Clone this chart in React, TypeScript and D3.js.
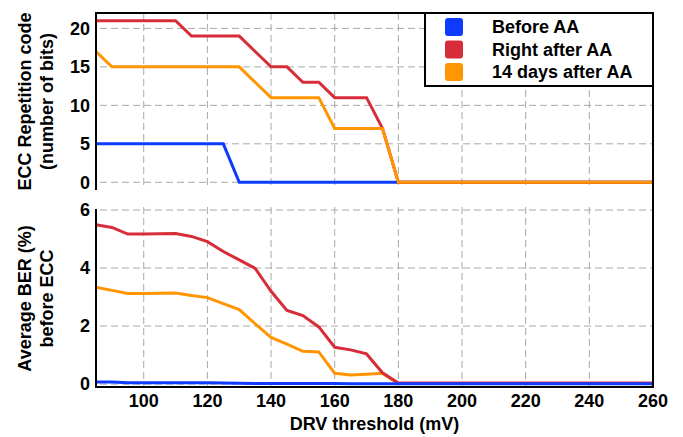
import { scaleLinear, line } from "d3";

const thresholds = [
  85, 90, 95, 100, 105, 110, 115, 120, 125, 130, 135, 140, 145, 150, 155, 160,
  165, 170, 175, 180, 185, 190, 195, 200, 205, 210, 215, 220, 225, 230, 235,
  240, 245, 250, 255, 260,
];

// ECC repetition code (number of bits)
const eccBefore = [
  5, 5, 5, 5, 5, 5, 5, 5, 5, 0, 0, 0, 0, 0, 0, 0, 0, 0, 0, 0, 0, 0, 0, 0, 0, 0,
  0, 0, 0, 0, 0, 0, 0, 0, 0, 0,
];
const eccRight = [
  21, 21, 21, 21, 21, 21, 19, 19, 19, 19, 17, 15, 15, 13, 13, 11, 11, 11, 7, 0,
  0, 0, 0, 0, 0, 0, 0, 0, 0, 0, 0, 0, 0, 0, 0, 0,
];
const eccDays14 = [
  17, 15, 15, 15, 15, 15, 15, 15, 15, 15, 13, 11, 11, 11, 11, 7, 7, 7, 7, 0, 0,
  0, 0, 0, 0, 0, 0, 0, 0, 0, 0, 0, 0, 0, 0, 0,
];

// Average BER (%) before ECC
const berBefore = [
  0.07, 0.07, 0.05, 0.05, 0.05, 0.05, 0.05, 0.05, 0.04, 0.03, 0.02, 0.02, 0.02,
  0.02, 0.02, 0.02, 0.01, 0.01, 0.01, 0.01, 0.01, 0.01, 0.01, 0.01, 0.01, 0.01,
  0.01, 0.01, 0.01, 0.01, 0.01, 0.01, 0.01, 0.01, 0.01, 0.01,
];
const berRight = [
  5.49, 5.4, 5.17, 5.17, 5.18, 5.19, 5.09, 4.91, 4.57, 4.28, 3.99, 3.2, 2.54,
  2.36, 1.97, 1.27, 1.18, 1.04, 0.39, 0.04, 0.04, 0.04, 0.04, 0.04, 0.04, 0.04,
  0.04, 0.04, 0.04, 0.04, 0.04, 0.04, 0.04, 0.04, 0.04, 0.04,
];
const berDays14 = [
  3.34, 3.23, 3.12, 3.12, 3.13, 3.14, 3.05, 2.98, 2.77, 2.57, 2.08, 1.61, 1.38,
  1.13, 1.11, 0.37, 0.31, 0.34, 0.37, 0.02, 0.02, 0.02, 0.02, 0.02, 0.02, 0.02,
  0.02, 0.02, 0.02, 0.02, 0.02, 0.02, 0.02, 0.02, 0.02, 0.02,
];

const xTicks = [100, 120, 140, 160, 180, 200, 220, 240, 260];
const eccTicks = [0, 5, 10, 15, 20];
const berTicks = [0, 2, 4, 6];

const seriesNames = ["Before AA", "Right after AA", "14 days after AA"];
const colors = ["#0d3cff", "#d72d3a", "#ff9500"];

const width = 683;
const height = 437;
const left = 96;
const right = 653;
const fs = 18;
const font = '"Liberation Sans", Arial, Helvetica, sans-serif';

const x = scaleLinear().domain([85, 260]).range([left, right]);
const yTop = scaleLinear().domain([-1, 22]).range([190, 13]);
const yBot = scaleLinear().domain([-0.1, 6]).range([387, 210]);

const gridStroke = "#a8a8a8";
const dash = "7,4";

function path(values: number[], y: (v: number) => number) {
  return line<number>()
    .x((_, i) => x(thresholds[i]))
    .y((v) => y(v))(values) as string;
}

function App() {
  const eccSeries = [eccBefore, eccRight, eccDays14];
  const berSeries = [berBefore, berRight, berDays14];

  return (
    <svg
      width={width}
      height={height}
      fontFamily={font}
      fontWeight={700}
      style={{ position: "absolute", left: 0, top: 0, background: "white" }}
    >
      {/* grid, top panel */}
      {eccTicks.map((t) => (
        <line
          key={"ht" + t}
          x1={left + 4}
          x2={right}
          y1={yTop(t)}
          y2={yTop(t)}
          stroke={gridStroke}
          strokeDasharray={dash}
        />
      ))}
      {xTicks.slice(0, -1).map((t) => (
        <line
          key={"vt" + t}
          x1={x(t)}
          x2={x(t)}
          y1={yTop(22)}
          y2={yTop(0) + 4}
          stroke={gridStroke}
          strokeDasharray={dash}
        />
      ))}
      {/* grid, bottom panel */}
      {berTicks.map((t) => (
        <line
          key={"hb" + t}
          x1={left + 4}
          x2={right}
          y1={yBot(t)}
          y2={yBot(t)}
          stroke={gridStroke}
          strokeDasharray={dash}
        />
      ))}
      {xTicks.slice(0, -1).map((t) => (
        <line
          key={"vb" + t}
          x1={x(t)}
          x2={x(t)}
          y1={yBot(6) - 3}
          y2={yBot(-0.1)}
          stroke={gridStroke}
          strokeDasharray={dash}
        />
      ))}

      {/* lines */}
      {eccSeries.map((s, i) => (
        <path
          key={"e" + i}
          d={path(s, yTop)}
          fill="none"
          stroke={colors[i]}
          strokeWidth={3}
        />
      ))}
      {[2, 1, 0].map((i) => (
        <path
          key={"b" + i}
          d={path(berSeries[i], yBot)}
          fill="none"
          stroke={colors[i]}
          strokeWidth={3}
        />
      ))}

      {/* frame */}
      <line x1={left} x2={right + 1} y1={13} y2={13} stroke="#000" strokeWidth={2} />
      <line x1={left} x2={left} y1={12} y2={190} stroke="#000" strokeWidth={2} />
      <line x1={right} x2={right} y1={12} y2={388} stroke="#000" strokeWidth={2} />
      <line x1={left} x2={left} y1={209} y2={388} stroke="#000" strokeWidth={2} />
      <line x1={left - 1} x2={right + 1} y1={387} y2={387} stroke="#000" strokeWidth={2} />

      {/* tick labels */}
      {eccTicks.map((t) => (
        <text key={"lt" + t} x={90} y={yTop(t)} dy="0.35em" textAnchor="end" fontSize={fs}>
          {t}
        </text>
      ))}
      {berTicks.map((t) => (
        <text key={"lb" + t} x={90} y={yBot(t)} dy="0.35em" textAnchor="end" fontSize={fs}>
          {t}
        </text>
      ))}
      {xTicks.map((t) => (
        <text key={"lx" + t} x={x(t)} y={407} textAnchor="middle" fontSize={fs}>
          {t}
        </text>
      ))}

      {/* axis titles */}
      <text x={(left + right) / 2} y={430} textAnchor="middle" fontSize={fs}>
        DRV threshold (mV)
      </text>
      <g transform={`translate(31, ${(13 + 190) / 2}) rotate(-90)`}>
        <text textAnchor="middle" fontSize={fs}>
          ECC Repetition code
        </text>
        <text y={22} textAnchor="middle" fontSize={fs}>
          (number of bits)
        </text>
      </g>
      <g transform={`translate(31, ${(210 + 387) / 2}) rotate(-90)`}>
        <text textAnchor="middle" fontSize={fs}>
          Average BER (%)
        </text>
        <text y={22} textAnchor="middle" fontSize={fs}>
          before ECC
        </text>
      </g>

      {/* legend */}
      <rect x={425} y={13} width={228} height={73} fill="white" stroke="#000" strokeWidth={2} />
      {seriesNames.map((n, i) => (
        <g key={n} transform={`translate(0, ${27 + i * 22.5})`}>
          <rect x={445} y={-9} width={18} height={18} rx={3} fill={colors[i]} />
          <text x={492} dy="0.35em" fontSize={fs}>
            {n}
          </text>
        </g>
      ))}
    </svg>
  );
}

export default App;
